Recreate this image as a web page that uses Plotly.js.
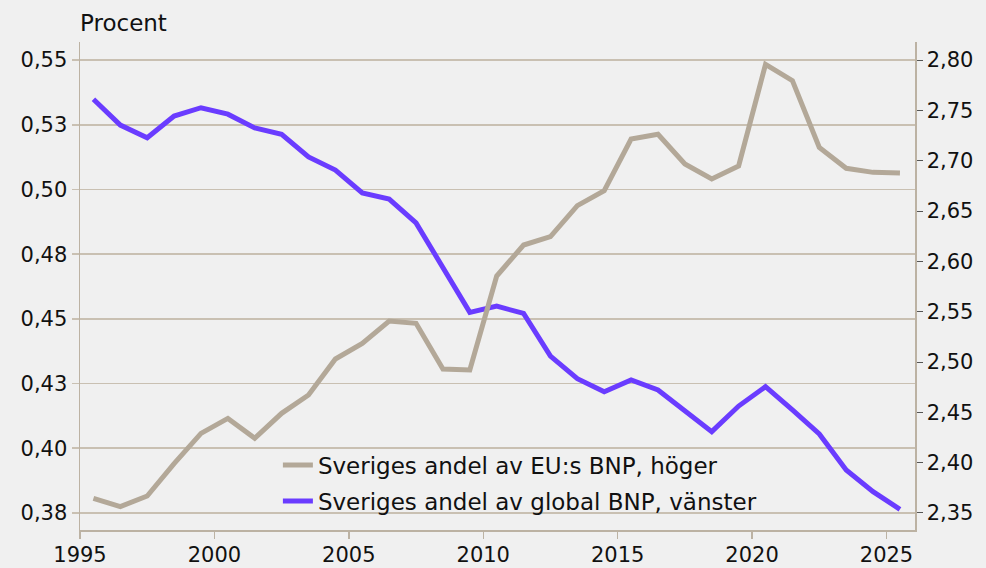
<!DOCTYPE html>
<html>
<head>
<meta charset="utf-8">
<script src="https://cdn.plot.ly/plotly-3.0.1.min.js"></script>
<style>
html,body{margin:0;padding:0;background:#f0f0f0;}
#chart{width:986px;height:568px;}
</style>
</head>
<body>
<div id="chart"></div>
<script>
// Years (annual values, drawn at mid-year)
const years = [1995,1996,1997,1998,1999,2000,2001,2002,2003,2004,2005,2006,2007,2008,2009,2010,2011,2012,2013,2014,2015,2016,2017,2018,2019,2020,2021,2022,2023,2024,2025];

// Sveriges andel av global BNP, vänster (procent)
const globalShare = [0.5349,0.5249,0.5200,0.5284,0.5316,0.5291,0.5238,0.5213,0.5126,0.5075,0.4987,0.4963,0.4871,0.4698,0.4525,0.4549,0.4521,0.4356,0.4269,0.4218,0.4264,0.4225,0.4144,0.4064,0.4163,0.4238,0.4148,0.4055,0.3916,0.3832,0.3764];

// Sveriges andel av EU:s BNP, höger (procent)
const euShare = [2.3646,2.3563,2.3669,2.3991,2.4291,2.4440,2.4242,2.4490,2.4672,2.5030,2.5185,2.5407,2.5384,2.4930,2.4920,2.5854,2.6162,2.6245,2.6553,2.6702,2.7215,2.7262,2.6967,2.6818,2.6947,2.7957,2.7795,2.7132,2.6924,2.6884,2.6877];

const seriesNames = ["Sveriges andel av global BNP, vänster", "Sveriges andel av EU:s BNP, höger"];

const leftTickVals = [0.375,0.4,0.425,0.45,0.475,0.5,0.525,0.55];
const leftTickText = ["0,38","0,40","0,43","0,45","0,48","0,50","0,53","0,55"];
const rightTickVals = [2.35,2.40,2.45,2.50,2.55,2.60,2.65,2.70,2.75,2.80];
const rightTickText = ["2,35","2,40","2,45","2,50","2,55","2,60","2,65","2,70","2,75","2,80"];
const xTickVals = [1995,2000,2005,2010,2015,2020,2025];

const xMid = years.map(y => y + 0.5);
const FONT = "'DejaVu Sans', sans-serif";
const AXIS_COL = "#bcb2a3";
const GRID_COL = "#c9c0b2";
const TXT = "#111111";

const traces = [
  {x: xMid, y: globalShare, name: seriesNames[0], type: "scatter", mode: "lines",
   line: {color: "#6a3cff", width: 5}, yaxis: "y", legendrank: 2, legendgroup: "b"},
  {x: xMid, y: euShare, name: seriesNames[1], type: "scatter", mode: "lines",
   line: {color: "#b3a898", width: 5}, yaxis: "y2", legendrank: 1, legendgroup: "a"}
];

const layout = {
  width: 986, height: 568,
  paper_bgcolor: "#f0f0f0", plot_bgcolor: "#f0f0f0",
  margin: {l: 80, r: 71, t: 42, b: 38},
  font: {family: FONT, size: 21, color: TXT},
  showlegend: true,
  legend: {x: 0.237, xanchor: "left", y: 0.177, yanchor: "top", bgcolor: "rgba(0,0,0,0)",
           traceorder: "grouped", tracegroupgap: 3, font: {family: FONT, size: 23, color: TXT}},
  xaxis: {range: [1995, 2026.06], tickvals: xTickVals, ticks: "outside", ticklen: 7, tickcolor: AXIS_COL, tickwidth: 1.5,
          showline: true, linecolor: AXIS_COL, linewidth: 1.5, showgrid: false, zeroline: false,
          ticklabelstandoff: -2, tickfont: {family: FONT, size: 21, color: TXT}},
  yaxis: {range: [0.3684, 0.557], tickvals: leftTickVals, ticktext: leftTickText, ticks: "outside", ticklen: 7,
          tickcolor: GRID_COL, tickwidth: 1.5,
          showline: true, linecolor: AXIS_COL, linewidth: 1.5, showgrid: true, gridcolor: GRID_COL, gridwidth: 1.5,
          zeroline: false, tickfont: {family: FONT, size: 21, color: TXT}},
  yaxis2: {range: [2.3331, 2.8179], overlaying: "y", side: "right", tickvals: rightTickVals, ticktext: rightTickText,
           ticks: "outside", ticklen: 6, tickcolor: "#555555", tickwidth: 1,
           showline: true, linecolor: AXIS_COL, linewidth: 1.5, showgrid: false, zeroline: false,
           tickfont: {family: FONT, size: 21, color: TXT}},
  annotations: [{text: "Procent", xref: "paper", yref: "paper", x: 0, y: 1, xanchor: "left", yanchor: "bottom",
                 xshift: -2, yshift: 4, showarrow: false, font: {family: FONT, size: 23, color: TXT}}]
};

Plotly.newPlot("chart", traces, layout, {displayModeBar: false, staticPlot: true});
</script>
</body>
</html>
